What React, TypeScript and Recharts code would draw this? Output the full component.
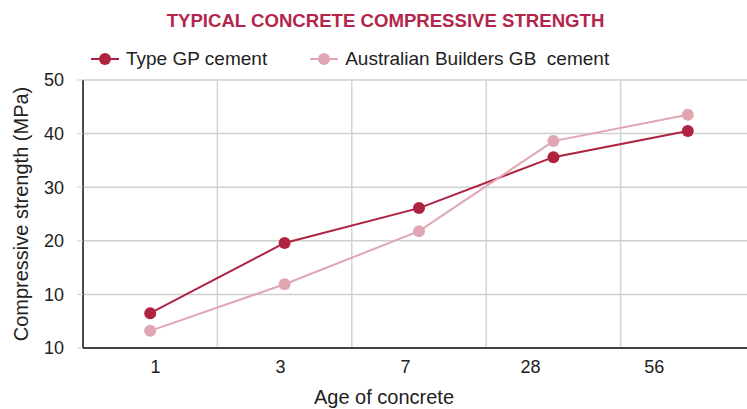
import { LineChart, Line, XAxis, YAxis, CartesianGrid, Legend, ReferenceLine, Label } from 'recharts'

const ages = ['1', '3', '7', '28', '56']
const gpStrength = [6.5, 19.6, 26.1, 35.6, 40.5]
const gbStrength = [3.2, 11.9, 21.8, 38.6, 43.5]
const seriesNames = ['Type GP cement', 'Australian Builders GB  cement']
const yTicks = [0, 10, 20, 30, 40, 50]
const yTickLabels = ['10', '10', '20', '30', '40', '50']
// where the age labels sit along the axis (they drift left of the points in the original)
const xTickValues = [0.54, 1.47, 2.4, 3.33, 4.25]
const categoryEdges = [1, 2, 3, 4]

const DARK = '#ae2340'
const LIGHT = '#e0a6b1'
const FONT = '"Liberation Sans", Arial, sans-serif'

const rows = ages.map((age, i) => ({ x: i + 0.5, age, gp: gpStrength[i], gb: gbStrength[i] }))

function LegendContent({ payload }: any) {
  const items = [...(payload ?? [])].sort((a: any, b: any) => seriesNames.indexOf(a.value) - seriesNames.indexOf(b.value))
  return (
    <div style={{ display: 'flex', alignItems: 'center', fontFamily: FONT, fontSize: 19, color: '#222', paddingLeft: 91 }}>
      {items.map((entry: any, i: number) => (
        <div key={entry.value} style={{ display: 'flex', alignItems: 'center', marginRight: i === 0 ? 43 : 0 }}>
          <svg width={28} height={14} style={{ marginRight: 7 }}>
            <line x1={0} y1={7} x2={28} y2={7} stroke={entry.color} strokeWidth={2} />
            <circle cx={14} cy={7} r={6} fill={entry.color} />
          </svg>
          <span style={{ whiteSpace: 'pre' }}>{entry.value}</span>
        </div>
      ))}
    </div>
  )
}

export default function App() {
  return (
    <div style={{ position: 'absolute', left: 0, top: 0, width: 747, height: 409, overflow: 'hidden', background: '#fff' }}>
      <div style={{ position: 'absolute', top: 10, left: 0, width: 771, textAlign: 'center', fontFamily: FONT, fontWeight: 700, fontSize: 18.6, color: '#b3264a' }}>
        TYPICAL CONCRETE COMPRESSIVE STRENGTH
      </div>
      <LineChart width={762} height={409} data={rows} margin={{ top: 80, right: 7, bottom: 0, left: 0 }}>
        <CartesianGrid vertical={false} stroke="#cfcfcf" strokeWidth={1.5} />
        {categoryEdges.map(e => (
          <ReferenceLine key={e} x={e} stroke="#d3d3d3" strokeWidth={1.5} />
        ))}
        <XAxis
          dataKey="x"
          type="number"
          domain={[0, 5]}
          ticks={xTickValues}
          tickFormatter={(_v: number, i: number) => ages[i]}
          tickLine={false}
          tickSize={0}
          tickMargin={12}
          height={61}
          axisLine={{ stroke: '#111', strokeWidth: 1.5 }}
          tick={{ fill: '#222', fontSize: 18, fontFamily: FONT }}
        >
          <Label value="Age of concrete" position="insideBottom" offset={5} dx={-35} style={{ fill: '#222', fontSize: 20, fontFamily: FONT }} />
        </XAxis>
        <YAxis
          domain={[0, 50]}
          ticks={yTicks}
          tickFormatter={(_v: number, i: number) => yTickLabels[i]}
          width={83}
          tickSize={6}
          tickMargin={13}
          tickLine={{ stroke: '#cfcfcf' }}
          axisLine={{ stroke: '#111', strokeWidth: 1.5 }}
          tick={{ fill: '#222', fontSize: 18, fontFamily: FONT }}
        >
          <Label value="Compressive strength (MPa)" angle={-90} position="insideLeft" offset={21} style={{ textAnchor: 'middle', fill: '#222', fontSize: 20, fontFamily: FONT }} />
        </YAxis>
        <Legend layout="horizontal" verticalAlign="middle" content={<LegendContent />} wrapperStyle={{ top: 48, left: 0, width: 762 }} />
        <Line dataKey="gp" name={seriesNames[0]} stroke={DARK} strokeWidth={2} dot={{ r: 6, fill: DARK, stroke: DARK, strokeWidth: 0 }} activeDot={false} isAnimationActive={false} />
        <Line dataKey="gb" name={seriesNames[1]} stroke={LIGHT} strokeWidth={2} dot={{ r: 6, fill: LIGHT, stroke: LIGHT, strokeWidth: 0 }} activeDot={false} isAnimationActive={false} />
      </LineChart>
    </div>
  )
}
